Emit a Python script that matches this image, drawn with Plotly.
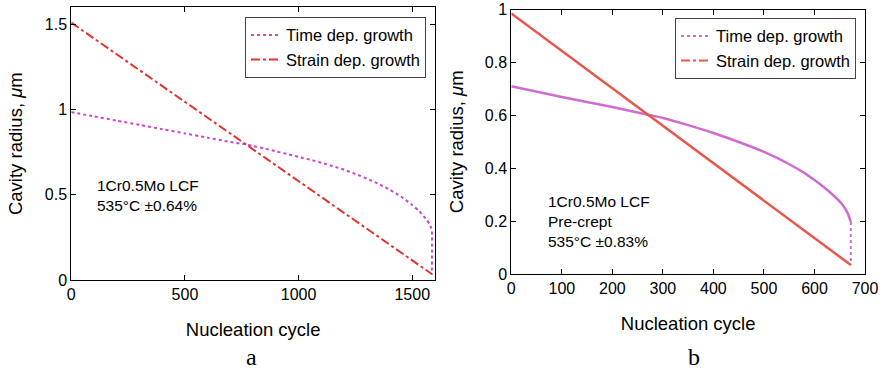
import plotly.graph_objects as go

# Panel a data
a_strain_x = [0, 1586]
a_strain_y = [1.51, 0.035]
a_time_x = [0, 100, 200, 300, 400, 500, 600, 700, 770, 800, 850, 900, 950, 1000, 1050,
            1100, 1150, 1200, 1250, 1300, 1350, 1400, 1450, 1500, 1530, 1550, 1565,
            1575, 1582, 1586, 1586]
a_time_y = [0.985, 0.96, 0.935, 0.91, 0.885, 0.86, 0.835, 0.81, 0.795, 0.786, 0.771,
            0.755, 0.739, 0.722, 0.706, 0.688, 0.668, 0.647, 0.622, 0.595, 0.565, 0.53,
            0.49, 0.44, 0.405, 0.375, 0.35, 0.33, 0.31, 0.29, 0.03]

# Panel b data
b_strain_x = [0, 672]
b_strain_y = [0.985, 0.034]
b_time_x = [0, 100, 200, 275, 300, 350, 400, 450, 500, 525, 550, 575, 600, 620, 640,
            655, 665, 672]
b_time_y = [0.71, 0.669, 0.631, 0.60, 0.59, 0.563, 0.533, 0.499, 0.462, 0.44, 0.415,
            0.388, 0.355, 0.326, 0.293, 0.263, 0.233, 0.197]
b_drop_x = [672, 672]
b_drop_y = [0.197, 0.034]

a_ticks = [0, 500, 1000, 1500]
a_yticks = [0, 0.5, 1, 1.5]
b_ticks = [0, 100, 200, 300, 400, 500, 600, 700]
b_yticks = [0, 0.2, 0.4, 0.6, 0.8, 1]

MAG_A = "#CC44CC"
RED_A = "#E0342C"
MAG_B = "#CF6CCF"
RED_B = "#E8574C"

fig = go.Figure()
fig.add_trace(go.Scatter(x=a_time_x, y=a_time_y, mode="lines", name="Time dep. growth",
                         line=dict(color=MAG_A, dash="dot", width=2, shape="spline", smoothing=0.6),
                         xaxis="x", yaxis="y", legend="legend"))
fig.add_trace(go.Scatter(x=a_strain_x, y=a_strain_y, mode="lines", name="Strain dep. growth",
                         line=dict(color=RED_A, dash="dashdot", width=2), xaxis="x", yaxis="y",
                         legend="legend"))

fig.add_trace(go.Scatter(x=b_time_x, y=b_time_y, mode="lines", showlegend=False,
                         line=dict(color=MAG_B, width=2.5, shape="spline", smoothing=0.6),
                         xaxis="x2", yaxis="y2"))
fig.add_trace(go.Scatter(x=b_drop_x, y=b_drop_y, mode="lines", showlegend=False,
                         line=dict(color=MAG_B, dash="dot", width=2), xaxis="x2", yaxis="y2"))
fig.add_trace(go.Scatter(x=b_strain_x, y=b_strain_y, mode="lines", showlegend=False,
                         line=dict(color=RED_B, width=2.5), xaxis="x2", yaxis="y2"))
fig.add_trace(go.Scatter(x=[None], y=[None], mode="lines", name="Time dep. growth",
                         line=dict(color=MAG_B, dash="dot", width=2), xaxis="x2", yaxis="y2",
                         legend="legend2"))
fig.add_trace(go.Scatter(x=[None], y=[None], mode="lines", name="Strain dep. growth",
                         line=dict(color=RED_B, dash="dashdot", width=2), xaxis="x2", yaxis="y2",
                         legend="legend2"))

W, H = 882, 370
FAM = "Liberation Sans, Arial"
font = dict(family=FAM, size=16, color="black")
axcommon = dict(showline=True, linecolor="black", linewidth=1, mirror="ticks", ticks="inside",
                ticklen=5, tickcolor="black", showgrid=False, zeroline=False, automargin=False,
                tickfont=dict(family=FAM, size=16, color="black"))
title_font = dict(family=FAM, size=18.5, color="black")

fig.update_layout(
    width=W, height=H, margin=dict(l=0, r=0, t=0, b=0, autoexpand=False),
    paper_bgcolor="white", plot_bgcolor="white", font=font,
    xaxis=dict(domain=[71.3 / W, 435 / W], range=[0, 1600], tickvals=a_ticks,
               title=dict(text="Nucleation cycle", font=title_font, standoff=20),
               anchor="y", **axcommon),
    yaxis=dict(domain=[1 - 280 / H, 1 - 7.3 / H], range=[0, 1.6], tickvals=a_yticks,
               ticktext=["0", "0.5", "1", "1.5"],
               title=dict(text="Cavity radius, <i>μ</i>m", font=title_font, standoff=17),
               anchor="x", **axcommon),
    xaxis2=dict(domain=[511.3 / W, 865 / W], range=[0, 700], tickvals=b_ticks,
                title=dict(text="Nucleation cycle", font=title_font, standoff=20),
                anchor="y2", **axcommon),
    yaxis2=dict(domain=[1 - 274 / H, 1 - 9.5 / H], range=[0, 1], tickvals=b_yticks,
                ticktext=["0", "0.2", "0.4", "0.6", "0.8", "1"],
                title=dict(text="Cavity radius, <i>μ</i>m", font=title_font, standoff=16),
                anchor="x2", **axcommon),
    legend=dict(x=426 / W, y=1 - 16.7 / H, xanchor="right", yanchor="top",
                bordercolor="#444", borderwidth=1, bgcolor="white",
                font=dict(family=FAM, size=16.5), tracegroupgap=0, itemwidth=30),
    legend2=dict(x=856 / W, y=1 - 17.7 / H, xanchor="right", yanchor="top",
                 bordercolor="#444", borderwidth=1, bgcolor="white",
                 font=dict(family=FAM, size=16.5), tracegroupgap=0, itemwidth=30),
    annotations=[
        dict(text="1Cr0.5Mo LCF<br>535°C ±0.64%", x=95 / W, y=1 - 195.5 / H, xref="paper",
             yref="paper", xanchor="left", yanchor="middle", align="left", showarrow=False,
             font=dict(family=FAM, size=15.5)),
        dict(text="1Cr0.5Mo LCF<br>Pre-crept<br>535°C ±0.83%", x=546 / W, y=1 - 221 / H,
             xref="paper", yref="paper", xanchor="left", yanchor="middle", align="left",
             showarrow=False, font=dict(family=FAM, size=15.5)),
        dict(text="a", x=251 / W, y=1 - 357 / H, xref="paper", yref="paper", showarrow=False,
             xanchor="center", yanchor="middle",
             font=dict(family="Liberation Serif, Times New Roman", size=24, color="black")),
        dict(text="b", x=694 / W, y=1 - 357 / H, xref="paper", yref="paper", showarrow=False,
             xanchor="center", yanchor="middle",
             font=dict(family="Liberation Serif, Times New Roman", size=24, color="black")),
    ],
)

fig.write_html("out.html")
